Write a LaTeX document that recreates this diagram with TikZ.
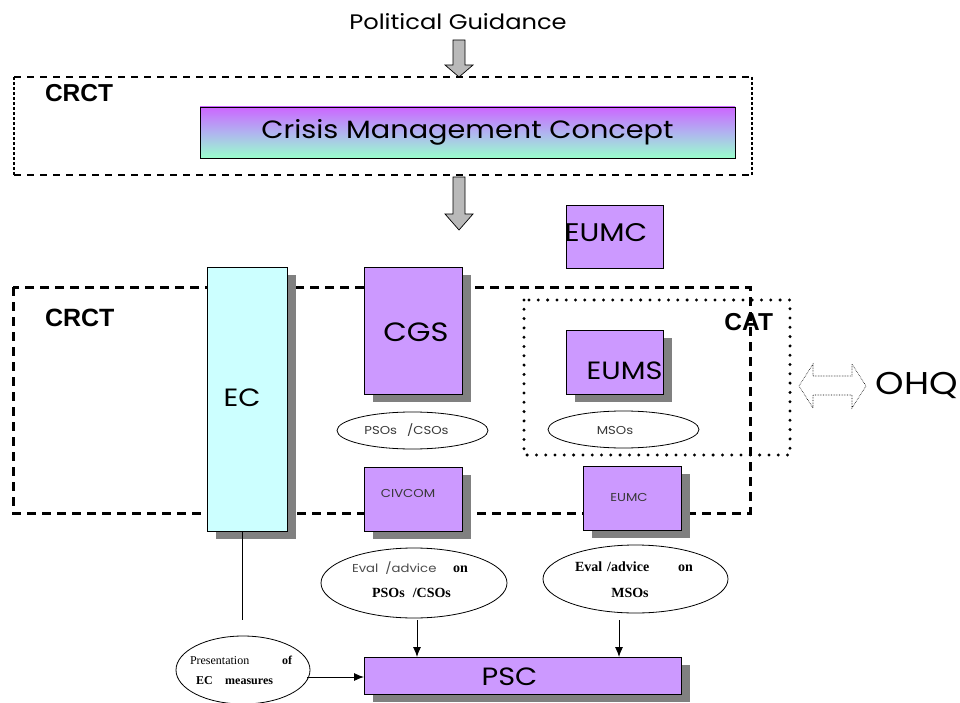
\documentclass[tikz,border=0pt]{standalone}
\usepackage{fontspec}
\setmainfont{Poppins}[FakeStretch=1.15]
\newfontfamily\boldsans{Liberation Sans}
\newfontfamily\tms{Liberation Serif}
\usetikzlibrary{shadows,shapes.geometric,arrows.meta}
\definecolor{lilac}{HTML}{CC99FF}
\definecolor{paleaqua}{HTML}{CCFFFF}
\definecolor{shadowgray}{HTML}{808080}
\definecolor{topviolet}{HTML}{CC66FF}
\definecolor{mint}{HTML}{99FFCC}
\definecolor{midlav}{HTML}{B0B4F0}
\tikzset{
  shadowed/.style={drop shadow={shadow xshift=9pt,shadow yshift=-8pt,fill=shadowgray,opacity=1}},
  pbox/.style={draw=black,line width=0.7pt,fill=lilac,inner sep=0pt,outer sep=0pt},
  oval/.style={ellipse,draw=black,line width=0.8pt,fill=white,inner sep=0pt,outer sep=0pt},
  thindashh/.style={draw=black,line width=1.2pt,dash pattern=on 7pt off 6pt},
  thindashv/.style={draw=black,line width=1.4pt,dash pattern=on 3pt off 2pt},
  thickdash/.style={draw=black,line width=3pt,dash pattern=on 9pt off 6pt},
  thickdot/.style={draw=black,line width=3.3pt,dash pattern=on 0pt off 9.3pt,line cap=round},
  garrow/.style={draw=black,line width=0.7pt,fill=gray!55},
  conn/.style={draw=black,line width=0.9pt,-{Latex[length=10pt,width=8pt]}},
  lbl/.style={inner sep=0pt,outer sep=0pt},
  bigtxt/.style={lbl,font=\fontsize{25}{28}\selectfont},
  smalltxt/.style={lbl,font=\fontsize{11.5}{13}\selectfont\color{black!78}},
  headtxt/.style={lbl,font=\boldsans\bfseries\fontsize{24.5}{27}\selectfont},
}
\begin{document}
\begin{tikzpicture}[x=1pt,y=-1pt]
\useasboundingbox (0,0) rectangle (960,703);
% Political guidance
\node[lbl,font=\fontsize{21}{24}\selectfont] (pg) at (458,22) {Political Guidance};
\draw[garrow] (453,40) -- (465,40) -- (465,65) -- (473,65) -- (459,77) -- (445,65) -- (453,65) -- cycle;
% top CRCT box
\coordinate (t1) at (14,77);
\coordinate (t2) at (752,175);
\draw[thindashh] (t1) -- (t1 -| t2);
\draw[thindashh] (t2 -| t1) -- (t2);
\draw[thindashv] (t1) -- (t2 -| t1);
\draw[thindashv] (t1 -| t2) -- (t2);
\node[headtxt,anchor=west] (crct1) at (45,93.5) {CRCT};
\node[draw=black,line width=0.7pt,top color=topviolet,bottom color=mint,middle color=midlav,
  minimum width=535pt,minimum height=51pt,inner sep=0pt,font=\fontsize{25}{28}\selectfont] (cmc) at (467.5,132.5)
  {Crisis Management Concept};
\draw[garrow] (453,177) -- (465,177) -- (465,214) -- (473,214) -- (459,230) -- (445,214) -- (453,214) -- cycle;
% EUMC top
\node[pbox,minimum width=97pt,minimum height=63pt] (eumctop) at (614.5,237) {};
\node[bigtxt,font=\fontsize{25.5}{28}\selectfont] (eumctoplbl) at (606,233) {EUMC};
% big CRCT box
\draw[thickdash] (13,287) rectangle (750,513);
\node[headtxt,anchor=west,font=\boldsans\bfseries\fontsize{25}{28}\selectfont] (crct2) at (45,317.5) {CRCT};
% EC
\node[pbox,shadowed,fill=paleaqua,minimum width=80pt,minimum height=264pt] (ec) at (247,399) {};
\node[bigtxt] (eclbl) at (242,398) {EC};
% CGS
\node[pbox,shadowed,minimum width=98pt,minimum height=127pt] (cgs) at (413,330.5) {};
\node[bigtxt,font=\fontsize{26.5}{29}\selectfont] (cgslbl) at (416,332) {CGS};
\node[oval,minimum width=151pt,minimum height=37pt] (psos) at (412.5,430.5) {};
\node[smalltxt] (psoslbl) at (406.5,430) {PSOs\hspace{10pt}/CSOs};
\node[pbox,shadowed,minimum width=98pt,minimum height=64pt] (civcom) at (413,499) {};
\node[smalltxt] (civcomlbl) at (408,493) {CIVCOM};
% CAT
\draw[thickdot] (524,300) rectangle (790,455);
\node[headtxt,anchor=east] (cat) at (773,322.5) {CAT};
\node[pbox,shadowed,minimum width=97pt,minimum height=64pt] (eums) at (614.5,362) {};
\node[bigtxt] (eumslbl) at (624.5,371) {EUMS};
\node[oval,minimum width=151pt,minimum height=37pt] (msos) at (623.5,429.5) {};
\node[smalltxt] (msoslbl) at (615,430) {MSOs};
\node[pbox,shadowed,minimum width=98pt,minimum height=64pt] (eumc2) at (632,498) {};
\node[smalltxt] (eumc2lbl) at (629,497) {EUMC};
% OHQ
\draw[draw=black,line width=0.6pt,densely dotted,fill=white] (799,386) -- (813,364) -- (813,376) -- (852,376) -- (852,364) -- (866,386) -- (852,408) -- (852,395) -- (813,395) -- (813,408) -- cycle;
\node[lbl,font=\fontsize{31.5}{34}\selectfont] (ohq) at (917,385) {OHQ};
% eval ellipses
\node[oval,minimum width=186pt,minimum height=70pt] (eval1) at (414,583) {};
\node[lbl] (eval1a) at (410,568) {\makebox[116pt]{{\fontsize{11.5}{13}\selectfont\color{black!70}Eval\hspace{7pt}/advice}\hfill{\tms\bfseries\fontsize{14}{16}\selectfont on}}};
\node[lbl] (eval1b) at (411.5,593) {\tms\bfseries\fontsize{14}{16}\selectfont PSOs\hspace{8pt}/CSOs};
\node[oval,minimum width=185pt,minimum height=68pt] (eval2) at (635.5,579) {};
\node[lbl] (eval2a) at (634,567) {\makebox[118pt]{\tms\bfseries\fontsize{14}{16}\selectfont Eval\hspace{5pt}/advice\hfill on}};
\node[lbl] (eval2b) at (630,593) {\tms\bfseries\fontsize{14}{16}\selectfont MSOs};
% presentation
\node[oval,minimum width=134pt,minimum height=68pt] (pres) at (243,670) {};
\node[lbl] (presa) at (241,660) {\makebox[102pt]{\tms\fontsize{12}{14}\selectfont Presentation\hfill\bfseries of}};
\node[lbl] (presb) at (234.5,681) {\makebox[77pt]{\tms\bfseries\fontsize{12}{14}\selectfont EC\hfill measures}};
% PSC
\node[pbox,shadowed,minimum width=317pt,minimum height=37pt] (psc) at (522.5,675.5) {};
\node[bigtxt] (psclbl) at (509.5,677) {PSC};
% connectors
\coordinate (ecfoot) at (242,620);
\draw[draw=black,line width=0.9pt] (ec.south -| ecfoot) -- (ecfoot);
\coordinate (a1) at (417,620);
\coordinate (a2) at (619,620);
\coordinate (a3) at (307,677);
\draw[conn] (a1) -- (psc.north -| a1);
\draw[conn] (a2) -- (psc.north -| a2);
\draw[conn] (a3) -- (psc.west |- a3);
\end{tikzpicture}
\end{document}
